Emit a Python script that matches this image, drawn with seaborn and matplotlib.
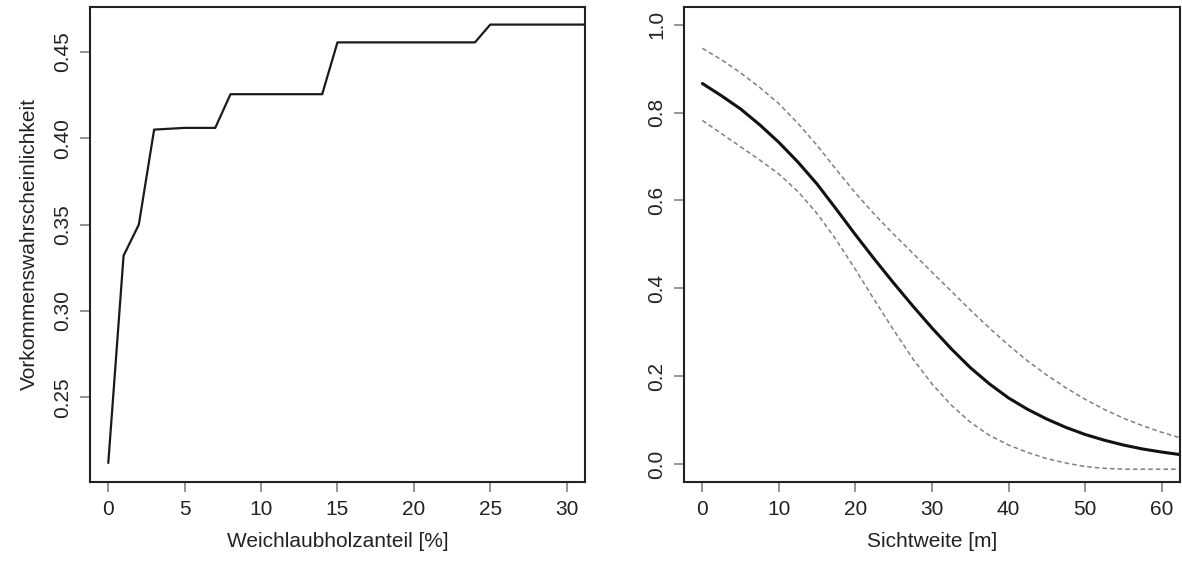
import pandas as pd
import matplotlib
matplotlib.use("Agg")
import matplotlib.pyplot as plt
import seaborn as sns

# left panel: Weichlaubholzanteil vs. Vorkommenswahrscheinlichkeit
weich_x = [0, 1, 2, 3, 5, 7, 8, 14, 15, 24, 25, 35]
weich_p = [0.212, 0.332, 0.350, 0.405, 0.406, 0.406, 0.4255, 0.4255,
           0.4555, 0.4555, 0.4658, 0.4658]

sicht_x = [0, 2.5, 5, 7.5, 10, 12.5, 15, 17.5, 20, 22.5, 25, 27.5, 30, 32.5,
           35, 37.5, 40, 42.5, 45, 47.5, 50, 52.5, 55, 57.5, 60, 62.5, 65]
sicht_fit = [0.866, 0.838, 0.808, 0.772, 0.732, 0.687, 0.637, 0.580, 0.522,
             0.466, 0.412, 0.360, 0.310, 0.263, 0.220, 0.183, 0.151, 0.125,
             0.103, 0.084, 0.068, 0.055, 0.044, 0.035, 0.028, 0.022, 0.018]
sicht_upper = [0.946, 0.920, 0.890, 0.857, 0.820, 0.775, 0.725, 0.670, 0.617,
               0.568, 0.523, 0.480, 0.437, 0.394, 0.351, 0.310, 0.271, 0.235,
               0.203, 0.174, 0.148, 0.125, 0.105, 0.088, 0.073, 0.060, 0.050]
sicht_lower = [0.782, 0.752, 0.722, 0.692, 0.660, 0.620, 0.570, 0.510, 0.443,
               0.373, 0.305, 0.240, 0.183, 0.135, 0.096, 0.066, 0.044, 0.027,
               0.013, 0.003, -0.005, -0.009, -0.011, -0.011, -0.011, -0.011,
               -0.011]

sns.set_style("white")
plt.rcParams['font.family'] = ['Liberation Sans', 'DejaVu Sans']

df_left = pd.DataFrame({'x': weich_x, 'p': weich_p})
df_right = pd.DataFrame({'x': sicht_x, 'fit': sicht_fit,
                         'upper': sicht_upper, 'lower': sicht_lower})

fig = plt.figure(figsize=(11.82, 5.67), dpi=100)
ax1 = fig.add_axes([0.0761, 0.150, 0.4188, 0.8377])
ax2 = fig.add_axes([0.5787, 0.150, 0.4196, 0.8377])

sns.lineplot(data=df_left, x='x', y='p', ax=ax1, color='#1a1a1a',
             linewidth=1.6, sort=False, estimator=None)
ax1.set_xlim(-1.2, 31.2)
ax1.set_ylim(0.201, 0.476)
ax1.set_xticks([0, 5, 10, 15, 20, 25, 30])
ax1.set_yticks([0.25, 0.30, 0.35, 0.40, 0.45])
ax1.set_yticklabels(['0.25', '0.30', '0.35', '0.40', '0.45'])
ax1.set_xlabel('Weichlaubholzanteil [%]', fontsize=15, color='#222222', labelpad=9)
ax1.set_ylabel('Vorkommenswahrscheinlichkeit', fontsize=15, color='#222222', labelpad=10)

for col, c, ls, lw in [('upper', '#808080', (0, (3, 2)), 1.1),
                       ('lower', '#808080', (0, (3, 2)), 1.1),
                       ('fit', '#111111', '-', 2.2)]:
    sns.lineplot(data=df_right, x='x', y=col, ax=ax2, color=c,
                 linewidth=lw, linestyle=ls, sort=False, estimator=None)
ax2.set_xlim(-2.4, 62.4)
ax2.set_ylim(-0.04, 1.04)
ax2.set_xticks([0, 10, 20, 30, 40, 50, 60])
ax2.set_yticks([0.0, 0.2, 0.4, 0.6, 0.8, 1.0])
ax2.set_yticklabels(['0.0', '0.2', '0.4', '0.6', '0.8', '1.0'])
ax2.set_xlabel('Sichtweite [m]', fontsize=15, color='#222222', labelpad=9)
ax2.set_ylabel('')

for ax in (ax1, ax2):
    for s in ax.spines.values():
        s.set_visible(True)
        s.set_color('#222222')
        s.set_linewidth(1.5)
    ax.tick_params(axis='both', direction='out', length=7, width=1.1,
                   color='#777777', labelsize=15, labelcolor='#222222', pad=6,
                   bottom=True, left=True)
    ax.tick_params(axis='y', labelrotation=90)
    for lab in ax.get_yticklabels():
        lab.set_va('center')

fig.savefig('out.png', dpi=100)
